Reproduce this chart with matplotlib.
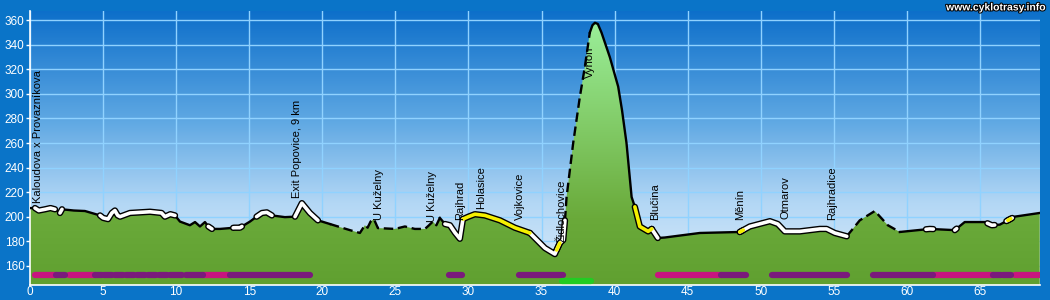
import numpy as np
import matplotlib
matplotlib.use("Agg")
import matplotlib.pyplot as plt
import matplotlib.patheffects as pe
from matplotlib.colors import LinearSegmentedColormap
from matplotlib.patches import Polygon

plt.rcParams["font.family"] = ["Liberation Sans", "DejaVu Sans"]

# elevation profile (km, m)
km = [0.0, 0.34, 0.6, 1.03, 1.4, 1.71, 2.05, 2.19, 3.0, 3.76, 4.79, 5.0, 5.34, 5.6,
      5.81, 6.0, 6.16, 6.84, 8.21, 9.0, 9.23, 9.6, 9.92, 10.26, 10.94, 11.29, 11.63,
      11.97, 12.2, 12.45, 13.0, 14.0, 14.36, 15.05, 15.5, 15.87, 16.2, 16.55, 17.44,
      18.13, 18.6, 19.15, 19.7, 20.52, 21.89, 22.57, 22.91, 23.1, 23.3, 23.53, 23.8,
      24.97, 25.65, 26.33, 27.02, 27.3, 27.56, 27.8, 28.04, 28.39, 28.73, 29.07, 29.41,
      29.62, 30.0, 30.44, 31.12, 32.15, 33.17, 34.2, 35.23, 35.91, 36.03, 36.25, 36.48,
      36.6, 36.71, 37.16, 37.62, 37.96, 38.3, 38.48, 38.65, 38.85, 39.1, 39.67, 40.24,
      40.5, 40.81, 41.16, 41.38, 41.72, 42.29, 42.54, 42.95, 43.43, 45.83, 48.56, 49.25,
      50.62, 51.16, 51.64, 52.67, 54.04, 54.5, 55.06, 55.88, 56.77, 57.8, 58.69, 59.51,
      61.56, 63.27, 63.95, 65.32, 65.8, 66.35, 67.37, 69.08]
elev = [207, 207, 205, 206, 207, 206, 203, 206, 205, 204.6, 201, 199, 198, 203,
        205, 201, 200, 203, 204, 203, 200, 202, 201, 196, 193, 195.6, 192,
        195.6, 192, 190, 190, 191, 191, 196, 200, 203, 203.5, 201, 199.6,
        200, 211, 203, 197, 194, 189, 186.7, 193, 191, 196, 198, 190.7,
        190, 192, 190, 190, 193, 196, 193, 199, 194, 193, 187, 182,
        198, 200, 202, 201, 197, 191, 186.7, 174.4, 169.5, 172.8, 178.5, 181,
        197, 216, 259.8, 297.7, 322, 350, 356, 358, 357, 350, 330, 306,
        287, 260, 216, 208, 192, 188, 190, 182.6, 183, 186.7, 187.5, 192,
        196.3, 194, 188, 188, 190, 190, 186.7, 184, 197, 204.6, 193, 187.5,
        190, 189, 195.6, 195.6, 193, 193.5, 200, 203]

# line styling along the route (km from, km to)
white_parts = [(0.34, 1.71), (2.05, 2.19), (4.79, 9.92), (12.2, 12.45), (13.9, 14.5),
               (15.5, 16.55), (18.13, 19.7), (28.39, 29.62), (34.2, 36.6), (42.54, 42.95),
               (48.56, 55.88), (61.3, 61.8), (63.27, 63.4), (65.5, 66.0), (66.8, 67.2)]
yellow_parts = [(29.62, 34.2), (36.03, 36.25), (41.38, 42.54), (48.56, 48.8), (66.9, 67.1)]
dashed_parts = [(20.52, 28.04), (36.6, 38.3), (55.88, 59.51)]

# bottom surface strip (km from, km to)
magenta_bars = [(0.34, 1.75), (2.65, 4.45), (11.85, 13.7), (42.95, 47.3), (61.8, 65.9),
                (67.4, 69.1)]
purple_bars = [(1.75, 2.4), (4.45, 4.95), (5.05, 5.6), (5.8, 6.35), (6.55, 7.1),
               (7.3, 7.85), (8.05, 8.6), (8.8, 9.35), (9.55, 10.4), (10.7, 11.85),
               (13.7, 19.15), (28.7, 29.55), (33.45, 36.45), (47.3, 49.0), (50.75, 55.9),
               (57.65, 61.8), (65.9, 66.4), (66.6, 67.1)]
green_bars = [(36.4, 38.4)]

towns = ["Kaloudova x Provazníkova", "Exit Popovice, 9 km", "U Kuželny", "U Kuželny",
         "Rajhrad", "Holasice", "Vojkovice", "Židlochovice", "Vyhon", "Blučina",
         "Měnín", "Otmarov", "Rajhradice"]
town_km = [0.55, 18.3, 23.9, 27.5, 29.4, 30.85, 33.5, 36.4, 38.3, 42.75, 48.6, 51.7, 54.85]
town_base = [211, 215, 197, 196, 197, 206, 197, 179, 313, 197, 197, 198, 197]

XMAX, YMIN, YMAX = 69.1, 144.3, 367.6
km = np.array(km)
elev = np.array(elev)

fig = plt.figure(figsize=(10.5, 3), dpi=100, facecolor="#0a74c8")
ax = fig.add_axes([30 / 1050, 15 / 300, 1010 / 1050, 274 / 300])
ax.set_xlim(0, XMAX)
ax.set_ylim(YMIN, YMAX)

# sky gradient
sky = LinearSegmentedColormap.from_list(
    "sky", [(0, "#dcedfb"), (0.3, "#b3d7f5"), (0.6, "#5fa8e3"), (1, "#0d6fca")])
grad = np.linspace(0, 1, 256).reshape(-1, 1)
ax.imshow(grad, extent=[0, XMAX, YMIN, YMAX], origin="lower", aspect="auto",
          cmap=sky, zorder=0)

for v in range(0, 70, 5):
    ax.axvline(v, color="#90d2ff", lw=1, zorder=1)
for h in range(160, 361, 20):
    ax.axhline(h, color="#90d2ff", lw=1, zorder=1)

# terrain with vertical gradient
verts = np.vstack([np.column_stack([km, elev]), [[km[-1], YMIN], [km[0], YMIN]]])
poly = Polygon(verts, closed=True, facecolor="none", edgecolor="none")
ax.add_patch(poly)
land = LinearSegmentedColormap.from_list(
    "land", [(0, "#60a030"), (0.25, "#6aaa3a"), (0.6, "#82cc68"), (1, "#9cf09c")])
img = ax.imshow(grad, extent=[0, XMAX, YMIN, 362], origin="lower", aspect="auto",
                cmap=land, zorder=2)
img.set_clip_path(poly)


def part(a, b):
    m = (km > a) & (km < b)
    xs = np.concatenate([[a], km[m], [b]])
    ys = np.concatenate([[np.interp(a, km, elev)], elev[m], [np.interp(b, km, elev)]])
    return xs, ys


# outline: solid except the dashed stretches
edges = [0.0] + [v for ab in dashed_parts for v in ab] + [km[-1]]
for a, b in zip(edges[0::2], edges[1::2]):
    xs, ys = part(a, b)
    ax.plot(xs, ys, color="black", lw=1.7, zorder=3, solid_joinstyle="round")
for a, b in dashed_parts:
    xs, ys = part(a, b)
    ax.plot(xs, ys, color="black", lw=1.7, ls=(0, (4, 2)), zorder=3)

for a, b in white_parts + yellow_parts:
    xs, ys = part(a, b)
    ax.plot(xs, ys, color="black", lw=4.6, solid_capstyle="round", zorder=4)
for a, b in white_parts:
    xs, ys = part(a, b)
    ax.plot(xs, ys, color="white", lw=2.6, solid_capstyle="round", zorder=5)
for a, b in yellow_parts:
    xs, ys = part(a, b)
    ax.plot(xs, ys, color="#f5f000", lw=2.6, solid_capstyle="round", zorder=5)

for bars, col, y in [(magenta_bars, "#c8157f", 152.2), (purple_bars, "#7a1a7c", 152.2),
                     (green_bars, "#22cc22", 147.8)]:
    for a, b in bars:
        ax.plot([a, b], [y, y], color=col, lw=4.5, solid_capstyle="round", zorder=6)

for name, x, y in zip(towns, town_km, town_base):
    ax.text(x, y, name, rotation=90, ha="center", va="bottom", fontsize=8,
            color="black", zorder=7)

ax.set_xticks(range(0, 70, 5))
ax.set_yticks(range(160, 361, 20))
ax.tick_params(colors="white", labelsize=8.5, width=1)
ax.tick_params(axis="y", length=3, pad=1)
ax.tick_params(axis="x", length=0, pad=1)
for s in ["top", "right"]:
    ax.spines[s].set_visible(False)
for s in ["left", "bottom"]:
    ax.spines[s].set_color("white")
    ax.spines[s].set_linewidth(1.2)

fig.text(0.996, 0.992, "www.cyklotrasy.info", ha="right", va="top", fontsize=7.5,
         color="white", fontweight="bold",
         path_effects=[pe.withStroke(linewidth=1.5, foreground="black")])

fig.savefig("out.png", dpi=100, facecolor=fig.get_facecolor())
